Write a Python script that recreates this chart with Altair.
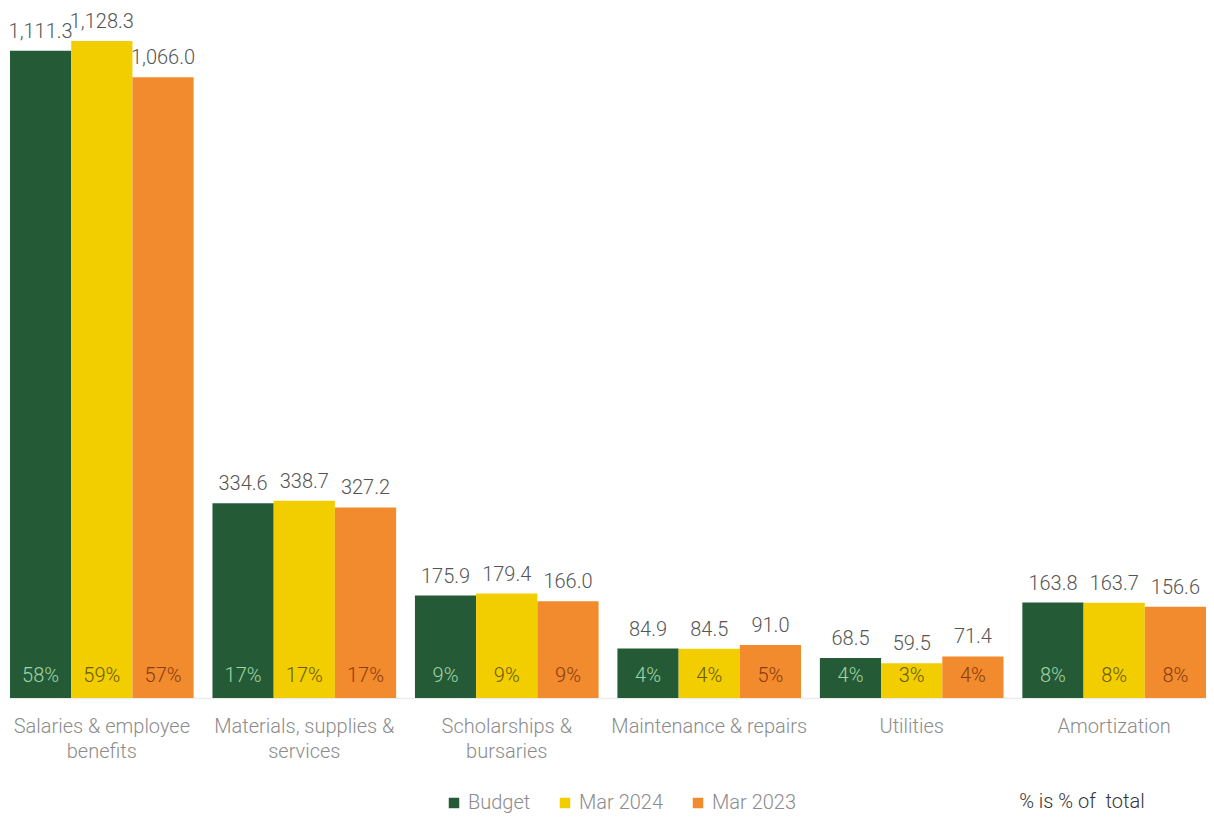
import altair as alt
import pandas as pd

categories = [
    "Salaries & employee|benefits",
    "Materials, supplies &|services",
    "Scholarships &|bursaries",
    "Maintenance & repairs",
    "Utilities",
    "Amortization",
]
series = ["Budget", "Mar 2024", "Mar 2023"]
budget = [1111.3, 334.6, 175.9, 84.9, 68.5, 163.8]
mar2024 = [1128.3, 338.7, 179.4, 84.5, 59.5, 163.7]
mar2023 = [1066.0, 327.2, 166.0, 91.0, 71.4, 156.6]
pct_budget = ["58%", "17%", "9%", "4%", "4%", "8%"]
pct_mar2024 = ["59%", "17%", "9%", "4%", "3%", "8%"]
pct_mar2023 = ["57%", "17%", "9%", "5%", "4%", "8%"]

colors = ["#245b36", "#f2cd00", "#f18b2d"]
pct_colors = ["#a3d4a6", "#6a5a00", "#8a3b10"]

rows = []
for s, vals, pcts in [("Budget", budget, pct_budget), ("Mar 2024", mar2024, pct_mar2024), ("Mar 2023", mar2023, pct_mar2023)]:
    for c, v, p in zip(categories, vals, pcts):
        rows.append({"category": c, "series": s, "value": v, "pct": p,
                     "label": f"{v:,.1f}"})
df = pd.DataFrame(rows)

FONT = "Roboto"

x = alt.X("category:N", sort=categories, title=None,
          scale=alt.Scale(paddingInner=0.093, paddingOuter=0),
          axis=alt.Axis(labelExpr="split(datum.label, '|')", labelAngle=0,
                        labelFontSize=20, labelColor="#8c8c8c", labelFont=FONT,
                        labelFontWeight=300, labelPadding=28, labelLineHeight=25,
                        labelLimit=400,
                        ticks=False, domainColor="#ececec", domainWidth=1.5,
                        labelBaseline="middle"))
xo = alt.XOffset("series:N", sort=series, scale=alt.Scale(paddingInner=0, paddingOuter=0))
y = alt.Y("value:Q", scale=alt.Scale(domain=[0, 1178], nice=False), axis=None)

color = alt.Color("series:N", sort=series,
                  scale=alt.Scale(domain=series, range=colors),
                  legend=alt.Legend(title=None, orient="none", direction="horizontal",
                                    legendX=434, legendY=781,
                                    symbolType="square", symbolSize=110, symbolStrokeWidth=0,
                                    labelFontSize=20, labelColor="#8c8c8c", labelFont=FONT,
                                    labelFontWeight=300, columnPadding=24, symbolOffset=0,
                                    labelOffset=4))

bars = alt.Chart(df).mark_bar().encode(x=x, xOffset=xo, y=y, color=color)

values = alt.Chart(df).mark_text(dy=-19, fontSize=20, color="#555555", font=FONT,
                                 fontWeight=300).encode(
    x=x, xOffset=xo, y=y, text="label:N")

pcts = alt.Chart(df).mark_text(dy=-22, fontSize=20, font=FONT, fontWeight=300).encode(
    x=x, xOffset=xo, y=alt.datum(0), text="pct:N",
    color=alt.Color("series:N", scale=alt.Scale(domain=series, range=pct_colors), legend=None))

note_df = pd.DataFrame({"category": ["Amortization"], "note": ["% is % of\u00a0 total"]})
note = alt.Chart(note_df).mark_text(align="left", dx=-95, dy=104, fontSize=20,
                                    color="#333333", font=FONT, fontWeight=300).encode(
    x=x, y=alt.datum(0), text="note:N")

chart = alt.layer(bars, values, pcts, note).resolve_scale(color="independent").properties(
    width=1196, height=686,
    autosize=alt.AutoSizeParams(type="none"),
    padding={"top": 4, "left": 2, "right": 0, "bottom": 117}, background="white"
).configure_view(stroke=None)

chart.save("out.html", embed_options={"renderer": "svg", "actions": False})
